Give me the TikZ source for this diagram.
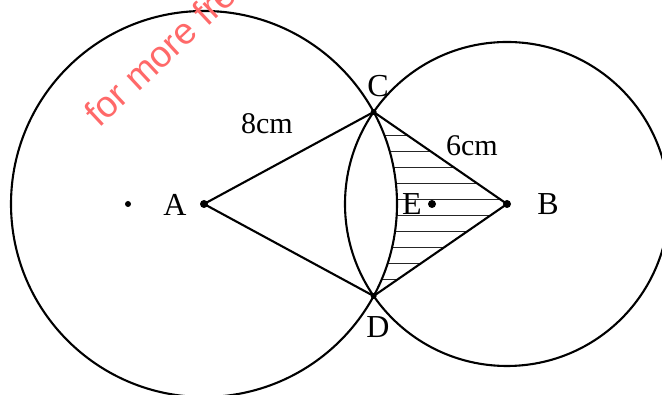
\documentclass[tikz,border=0pt]{standalone}
\usepackage{fontspec}
\setmainfont{Liberation Serif}
\newfontfamily\wmfont{Liberation Sans}
\usetikzlibrary{calc}
\definecolor{wmred}{RGB}{255,105,105}
\begin{document}
\begin{tikzpicture}[x=1pt,y=1pt,
  geo/.style={line width=2.1pt, black},
  hatchline/.style={line width=1pt, black!85},
  dotpt/.style={circle, fill=black, inner sep=0pt, minimum size=8pt},
  smalldot/.style={circle, fill=black, inner sep=0pt, minimum size=6pt},
  lbl/.style={font=\fontsize{32}{32}\selectfont, inner sep=0pt},
  meas/.style={font=\fontsize{30}{30}\selectfont, inner sep=0pt}]
\useasboundingbox (0,0) rectangle (662,395);
\clip (0,0) rectangle (662,395);
\fill[white] (0,0) rectangle (662,395);
% centres and intersection points
\coordinate (A) at (204,191);
\coordinate (B) at (507,191);
\coordinate (C) at ($(A)+(28.47:193)$);
\coordinate (D) at ($(A)+(-28.47:193)$);
% hatched region
\begin{scope}
  \clip (C) -- (B) -- (D) arc[start angle=-28.47, end angle=28.47, radius=193] -- cycle;
  \foreach \yy in {115,131,...,259} \draw[hatchline] (330,\yy) -- (530,\yy);
\end{scope}
% circles
\draw[geo] (A) circle[radius=193];
\draw[geo] (B) circle[radius=162];
% segments
\draw[geo] (A) -- (C);
\draw[geo] (A) -- (D);
\draw[geo] (B) -- (C);
\draw[geo] (B) -- (D);
% points
\node[dotpt] (pA) at (A) {};
\node[dotpt] (pB) at (B) {};
\node[smalldot] (pC) at (C) {};
\node[smalldot] (pD) at (D) {};
\node[dotpt] (pE) at (432,191) {};
\node[smalldot] (pL) at (128,191) {};
% labels
\node[lbl] (lA) at (175,190) {A};
\node[lbl] (lB) at (548,191) {B};
\node[lbl] (lC) at (378,309) {C};
\node[lbl] (lD) at (378,68) {D};
\node[lbl] (lE) at (412,191) {E};
\node[meas] (m8) at (267,271) {8cm};
\node[meas] (m6) at (472,249) {6cm};
% watermark
\node[font=\wmfont\fontsize{37}{37}\selectfont, text=wmred, rotate=43, anchor=base west, inner sep=0pt] (wm) at (99,266) {for more free};
\end{tikzpicture}
\end{document}
